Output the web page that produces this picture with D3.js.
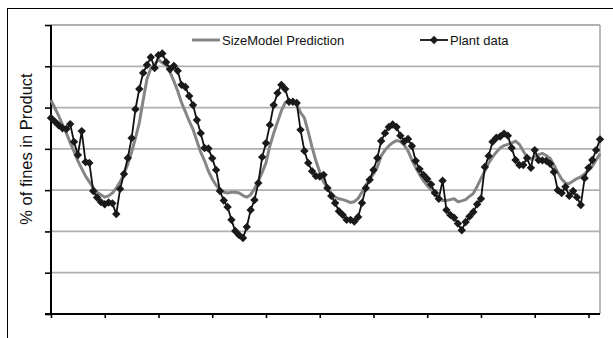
<!DOCTYPE html>
<html>
<head>
<meta charset="utf-8">
<script src="https://cdn.jsdelivr.net/npm/d3@7"></script>
<style>
  body { margin: 0; background: #fff; }
  svg { display: block; font-family: "Liberation Sans", Arial, sans-serif; }
</style>
</head>
<body>
<div id="chart"></div>
<script>
// % fines, one value per sample (index = sample number)
const plantData = [
  4.75, 4.66, 4.57, 4.50, 4.48, 4.60, 4.17, 3.85, 4.43, 3.68,
  3.66, 2.98, 2.82, 2.71, 2.66, 2.70, 2.68, 2.42, 3.03, 3.39,
  3.78, 4.26, 4.96, 5.45, 5.84, 6.03, 6.22, 5.96, 6.27, 6.31,
  6.10, 5.93, 6.01, 5.89, 5.55, 5.50, 5.28, 5.06, 4.70, 4.38,
  4.02, 4.01, 3.77, 3.49, 2.98, 2.75, 2.59, 2.28, 2.01, 1.91,
  1.84, 2.11, 2.52, 2.76, 3.17, 3.80, 4.14, 4.58, 5.06, 5.35,
  5.55, 5.45, 5.14, 5.14, 5.11, 4.46, 3.95, 3.66, 3.46, 3.34,
  3.33, 3.37, 3.05, 2.86, 2.69, 2.49, 2.40, 2.28, 2.28, 2.24,
  2.35, 2.69, 3.05, 3.25, 3.49, 3.78, 4.19, 4.38, 4.53, 4.59,
  4.53, 4.32, 4.18, 4.24, 4.07, 3.71, 3.51, 3.37, 3.27, 3.14,
  2.93, 2.79, 3.23, 2.52, 2.40, 2.33, 2.19, 2.03, 2.23, 2.36,
  2.47, 2.66, 2.79, 3.56, 3.83, 4.17, 4.27, 4.30, 4.37, 4.32,
  4.02, 3.73, 3.61, 3.61, 3.78, 3.54, 3.97, 3.73, 3.72, 3.71,
  3.64, 3.44, 3.00, 2.93, 3.08, 2.86, 2.98, 2.83, 2.64, 3.29,
  3.54, 3.73, 3.97, 4.23
];

const modelData = [
  5.18, 4.99, 4.80, 4.59, 4.38, 4.15, 3.94, 3.71, 3.52, 3.34,
  3.20, 3.06, 2.95, 2.89, 2.83, 2.86, 2.93, 3.05, 3.20, 3.39,
  3.63, 3.92, 4.26, 4.63, 5.18, 5.69, 5.95, 6.05, 6.16, 6.08,
  6.03, 5.86, 5.64, 5.40, 5.12, 4.90, 4.67, 4.47, 4.19, 3.92,
  3.71, 3.46, 3.27, 3.12, 3.00, 2.95, 2.93, 2.95, 2.95, 2.93,
  2.87, 2.83, 2.89, 3.03, 3.22, 3.43, 3.66, 4.07, 4.38, 4.65,
  4.92, 5.12, 5.14, 5.14, 5.09, 4.88, 4.75, 4.41, 4.04, 3.71,
  3.44, 3.20, 3.05, 2.93, 2.83, 2.79, 2.77, 2.74, 2.70, 2.72,
  2.80, 2.95, 3.12, 3.27, 3.39, 3.56, 3.83, 3.97, 4.07, 4.15,
  4.20, 4.18, 4.09, 3.95, 3.73, 3.55, 3.38, 3.23, 3.11, 3.02,
  2.89, 2.82, 2.75, 2.75, 2.77, 2.79, 2.72, 2.74, 2.77, 2.85,
  2.92, 3.09, 3.28, 3.46, 3.66, 3.80, 3.92, 4.02, 4.08, 4.11,
  4.14, 4.19, 4.11, 3.95, 3.80, 3.75, 3.81, 3.86, 3.89, 3.84,
  3.77, 3.61, 3.43, 3.27, 3.17, 3.16, 3.22, 3.28, 3.32, 3.39,
  3.49, 3.58, 3.73, 3.88
];

const yTicks = [0, 1, 2, 3, 4, 5, 6, 7];
const xTickStep = 14;
const seriesNames = ['SizeModel Prediction', 'Plant data'];
const yLabel = '% of fines in Product';

const width = 613, height = 338;
const margin = { top: 25, right: 13, bottom: 24, left: 51 };
const innerW = width - margin.left - margin.right;
const innerH = height - margin.top - margin.bottom;

const svg = d3.select('#chart')
  .append('svg')
  .attr('width', width)
  .attr('height', height);

// chart border
svg.append('rect')
  .attr('x', 7.5).attr('y', 8.5)
  .attr('width', 620).attr('height', 340)
  .attr('fill', 'none')
  .attr('stroke', '#000')
  .attr('stroke-width', 1);

const g = svg.append('g')
  .attr('transform', 'translate(' + margin.left + ',' + margin.top + ')');

const x = d3.scaleLinear()
  .domain([0, plantData.length - 1])
  .range([0, innerW]);

const y = d3.scaleLinear()
  .domain([0, 7])
  .range([innerH, 0]);

// gridlines
g.append('g')
  .selectAll('line')
  .data(yTicks.slice(1))
  .enter()
  .append('line')
  .attr('x1', 0).attr('x2', innerW)
  .attr('y1', d => y(d)).attr('y2', d => y(d))
  .attr('stroke', '#b0b0b0')
  .attr('stroke-width', 1.8);

// right edge of plot area
g.append('line')
  .attr('x1', innerW).attr('x2', innerW)
  .attr('y1', 0).attr('y2', innerH)
  .attr('stroke', '#a8a8a8')
  .attr('stroke-width', 1.6);

// Y axis (no labels)
const yAxis = g.append('g')
  .call(d3.axisLeft(y).tickValues(yTicks).tickSize(6).tickFormat(''));
yAxis.select('.domain').attr('stroke-width', 2).attr('d', 'M0,' + (innerH + 1) + 'V0');
yAxis.selectAll('.tick line').attr('stroke-width', 1.6);

// X axis (no labels)
const xAxis = g.append('g')
  .attr('transform', 'translate(0,' + innerH + ')')
  .call(d3.axisBottom(x).tickValues(d3.range(0, plantData.length, xTickStep)).tickSize(4).tickFormat(''));
xAxis.select('.domain').attr('stroke-width', 2).attr('d', 'M-6,0H' + innerW);
xAxis.selectAll('.tick line').attr('stroke-width', 1.6);

// model line
const line = d3.line()
  .x((d, i) => x(i))
  .y(d => y(d));

g.append('path')
  .datum(modelData)
  .attr('fill', 'none')
  .attr('stroke', '#858585')
  .attr('stroke-width', 3)
  .attr('stroke-linejoin', 'round')
  .attr('d', line);

// plant line + diamonds
g.append('path')
  .datum(plantData)
  .attr('fill', 'none')
  .attr('stroke', '#111')
  .attr('stroke-width', 1.8)
  .attr('d', line);

const diamond = 'M0,-4.2L4.2,0L0,4.2L-4.2,0Z';

g.selectAll('.pt')
  .data(plantData)
  .enter()
  .append('path')
  .attr('class', 'pt')
  .attr('transform', (d, i) => 'translate(' + x(i) + ',' + y(d) + ')')
  .attr('d', diamond)
  .attr('fill', '#1a1a1a');

// legend
const legend = svg.append('g');
legend.append('line')
  .attr('x1', 192).attr('x2', 220)
  .attr('y1', 40).attr('y2', 40)
  .attr('stroke', '#858585').attr('stroke-width', 3);
legend.append('text')
  .attr('x', 222).attr('y', 44.5)
  .style('font-size', '13px')
  .attr('fill', '#111')
  .text(seriesNames[0]);

legend.append('line')
  .attr('x1', 420).attr('x2', 448)
  .attr('y1', 40).attr('y2', 40)
  .attr('stroke', '#111').attr('stroke-width', 1.8);
legend.append('path')
  .attr('transform', 'translate(434,40)')
  .attr('d', diamond)
  .attr('fill', '#1a1a1a');
legend.append('text')
  .attr('x', 450).attr('y', 44.5)
  .style('font-size', '13px')
  .attr('fill', '#111')
  .text(seriesNames[1]);

// y axis title
svg.append('text')
  .attr('transform', 'translate(32,149) rotate(-90)')
  .attr('text-anchor', 'middle')
  .style('font-size', '16.5px')
  .attr('fill', '#111')
  .text(yLabel);
</script>
</body>
</html>
